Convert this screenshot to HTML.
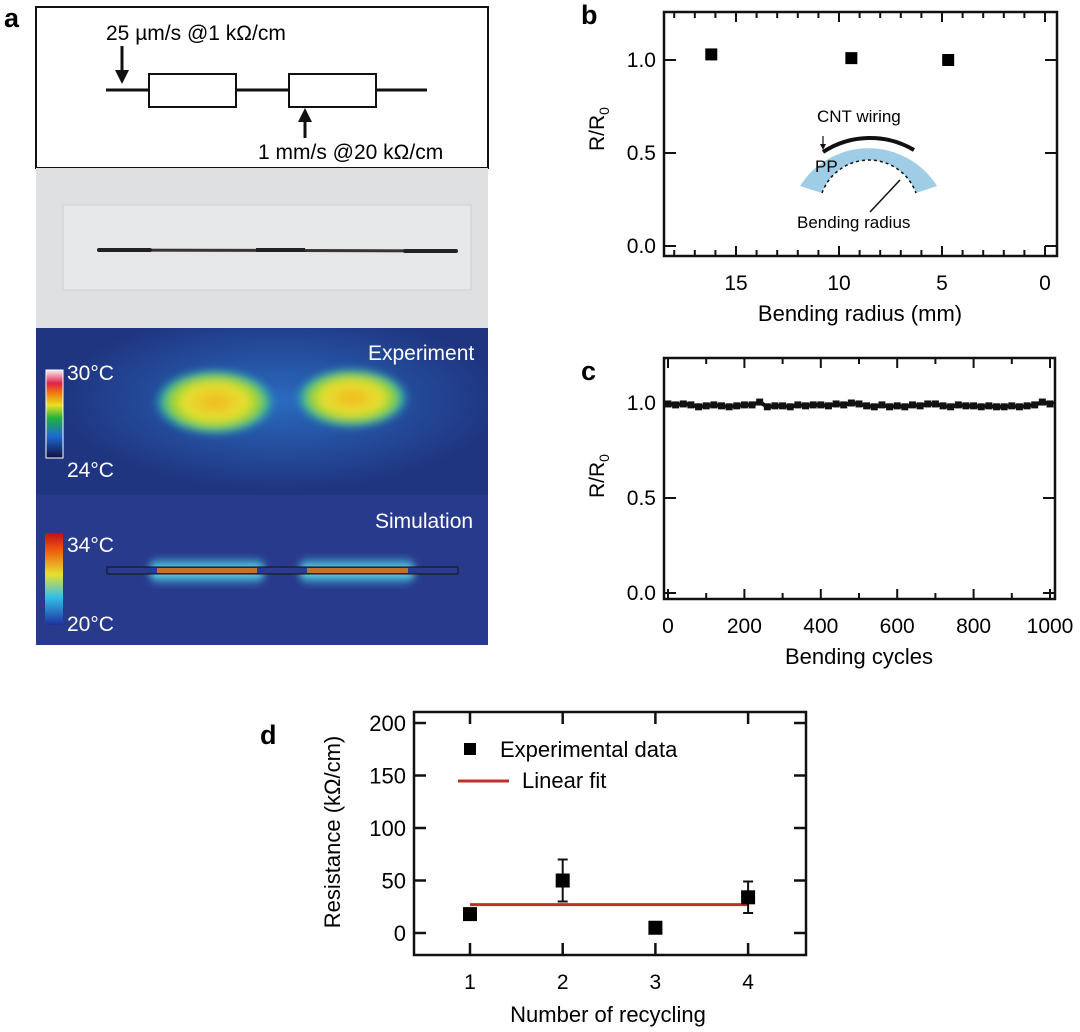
<!DOCTYPE html>
<html><head><meta charset="utf-8"><style>
body{margin:0;width:1080px;height:1032px;background:#fff;overflow:hidden;font-family:"Liberation Sans",sans-serif;}
svg{position:absolute;left:0;top:0}
</style></head><body>
<svg width="1080" height="1032" viewBox="0 0 1080 1032" font-family="Liberation Sans, sans-serif">
<defs>
<radialGradient id="blob" cx="50%" cy="50%" r="50%">
<stop offset="0" stop-color="#f0b820"/><stop offset="0.5" stop-color="#e6e030"/><stop offset="0.72" stop-color="#8ad03a"/><stop offset="0.86" stop-color="#2cb0a0"/><stop offset="1" stop-color="#2a64c8" stop-opacity="0"/>
</radialGradient>
<radialGradient id="halo" cx="50%" cy="50%" r="50%">
<stop offset="0" stop-color="#2f7fd8" stop-opacity="0.9"/><stop offset="1" stop-color="#2f7fd8" stop-opacity="0"/>
</radialGradient>
<linearGradient id="cb1" x1="0" y1="1" x2="0" y2="0">
<stop offset="0" stop-color="#101040"/><stop offset="0.25" stop-color="#1e6ad0"/><stop offset="0.45" stop-color="#20b040"/><stop offset="0.6" stop-color="#e8e020"/><stop offset="0.75" stop-color="#f07010"/><stop offset="0.85" stop-color="#e0204a"/><stop offset="1" stop-color="#f8f0f0"/>
</linearGradient>
<linearGradient id="cb2" x1="0" y1="1" x2="0" y2="0">
<stop offset="0" stop-color="#2030a0"/><stop offset="0.3" stop-color="#30c0e8"/><stop offset="0.55" stop-color="#e8e030"/><stop offset="0.8" stop-color="#f06010"/><stop offset="1" stop-color="#c01010"/>
</linearGradient>
<linearGradient id="glow" x1="0" y1="0" x2="0" y2="1">
<stop offset="0" stop-color="#30c0e8" stop-opacity="0"/><stop offset="0.4" stop-color="#60e0e8"/><stop offset="0.6" stop-color="#60e0e8"/><stop offset="1" stop-color="#30c0e8" stop-opacity="0"/>
</linearGradient>
<filter id="blur"><feGaussianBlur stdDeviation="4"/></filter>
<clipPath id="expclip"><rect x="36" y="328" width="452" height="167"/></clipPath>
</defs>

<!-- Panel a -->
<text x="4" y="27" font-size="27" font-weight="bold">a</text>
<g>
<rect x="36" y="7" width="452" height="161" fill="#fff" stroke="#111" stroke-width="2"/>
<line x1="106" y1="90" x2="427" y2="90" stroke="#111" stroke-width="3"/>
<rect x="149" y="74" width="87" height="33" fill="#fff" stroke="#111" stroke-width="2"/>
<rect x="289" y="74" width="87" height="33" fill="#fff" stroke="#111" stroke-width="2"/>
<line x1="122" y1="46" x2="122" y2="72" stroke="#111" stroke-width="3"/>
<polygon points="115,70 129,70 122,84" fill="#111"/>
<line x1="305" y1="112" x2="305" y2="138" stroke="#111" stroke-width="3"/>
<polygon points="298,122 312,122 305,108" fill="#111"/>
<text x="106" y="40" font-size="21">25 µm/s @1 kΩ/cm</text>
<text x="258" y="159" font-size="21">1 mm/s @20 kΩ/cm</text>
</g>
<g>
<rect x="36" y="168" width="452" height="160" fill="#dfe0e2"/>
<rect x="63" y="205" width="408" height="85" fill="#e6e7e9" stroke="#cfd0d2" stroke-width="1"/>
<line x1="99" y1="250" x2="456" y2="251" stroke="#3a3434" stroke-width="3"/>
<line x1="99" y1="250" x2="150" y2="250" stroke="#222" stroke-width="4" stroke-linecap="round"/>
<line x1="256" y1="250" x2="305" y2="250" stroke="#222" stroke-width="4"/>
<line x1="405" y1="251" x2="456" y2="251" stroke="#222" stroke-width="4" stroke-linecap="round"/>
</g>
<g clip-path="url(#expclip)">
<rect x="36" y="328" width="452" height="167" fill="#1f3580"/>
<ellipse cx="280" cy="400" rx="220" ry="90" fill="url(#halo)" opacity="0.8"/>
<ellipse cx="215" cy="402" rx="62" ry="34" fill="url(#blob)" filter="url(#blur)"/>
<ellipse cx="352" cy="398" rx="58" ry="31" fill="url(#blob)" filter="url(#blur)"/>
<rect x="46" y="370" width="17" height="88" fill="url(#cb1)" stroke="#fff" stroke-width="1"/>
<text x="67" y="380" font-size="21" fill="#fff">30°C</text>
<text x="67" y="477" font-size="21" fill="#fff">24°C</text>
<text x="368" y="360" font-size="21" fill="#fff">Experiment</text>
</g>
<g>
<rect x="36" y="495" width="452" height="150" fill="#283a8c"/>
<rect x="150" y="556" width="114" height="30" rx="12" fill="url(#glow)" filter="url(#blur)"/>
<rect x="300" y="556" width="114" height="30" rx="12" fill="url(#glow)" filter="url(#blur)"/>
<rect x="107" y="567" width="351" height="7" fill="#2a3c90" stroke="#111" stroke-width="1"/>
<rect x="157" y="568" width="100" height="5" fill="#c07030"/>
<rect x="307" y="568" width="101" height="5" fill="#c07030"/>
<rect x="45" y="533" width="18" height="92" fill="url(#cb2)"/>
<text x="67" y="552" font-size="21" fill="#fff">34°C</text>
<text x="67" y="631" font-size="21" fill="#fff">20°C</text>
<text x="375" y="528" font-size="21" fill="#fff">Simulation</text>
</g>

<!-- Panel b -->
<text x="581" y="24" font-size="27" font-weight="bold">b</text>
<g id="pb"></g>
<!-- Panel c -->
<text x="581" y="380" font-size="27" font-weight="bold">c</text>
<g id="pc"></g>
<!-- Panel d -->
<text x="260" y="744" font-size="27" font-weight="bold">d</text>
<g id="pd"></g>
</svg>
<script>
// Panel b data
const bRadius = [16.2, 9.4, 4.7];
const bRatio = [1.03, 1.01, 1.0];
const bXTicks = [15, 10, 5, 0];
const bYTicks = [0.0, 0.5, 1.0];
// Panel c data
const cCycles = [0,20,40,60,80,100,120,140,160,180,200,220,240,260,280,300,320,340,360,380,400,420,440,460,480,500,520,540,560,580,600,620,640,660,680,700,720,740,760,780,800,820,840,860,880,900,920,940,960,980,1000];
const cRatio = [0.995,0.99,0.995,0.99,0.98,0.985,0.99,0.985,0.98,0.985,0.99,0.99,1.005,0.98,0.985,0.985,0.98,0.99,0.985,0.99,0.99,0.985,0.995,0.99,1.0,0.995,0.985,0.98,0.99,0.98,0.985,0.98,0.99,0.985,0.995,0.995,0.985,0.98,0.99,0.985,0.985,0.98,0.985,0.98,0.98,0.985,0.98,0.985,0.99,1.005,0.995];
const cXTicks = [0,200,400,600,800,1000];
const cYTicks = [0.0, 0.5, 1.0];
// Panel d data
const dCycle = [1,2,3,4];
const dRes = [18,50,5,34];
const dErr = [0,20,0,15];
const dFit = [27,27];
const dXTicks = [1,2,3,4];
const dYTicks = [0,50,100,150,200];

const NS='http://www.w3.org/2000/svg';
function mk(parent,tag,attrs,txt){const e=document.createElementNS(NS,tag);for(const k in attrs)e.setAttribute(k,attrs[k]);if(txt!==undefined)e.textContent=txt;parent.appendChild(e);return e;}

// ---- Panel b
(function(){
const g=document.getElementById('pb');
const L=664,R=1057,T=12,B=256;
const xs=v=>1045-(v*20.6), ys=v=>246-v*186;
mk(g,'rect',{x:L,y:T,width:R-L,height:B-T,fill:'none',stroke:'#111','stroke-width':2.5});
for(let v=0;v<=18;v++){const x=xs(v);const len=(v%5===0)?10:6;mk(g,'line',{x1:x,y1:B,x2:x,y2:B-len,stroke:'#111','stroke-width':2});mk(g,'line',{x1:x,y1:T,x2:x,y2:T+len,stroke:'#111','stroke-width':2});}
bXTicks.forEach(v=>{const t=mk(g,'text',{x:xs(v),y:290,'font-size':21,'text-anchor':'middle'},String(v));

});
bYTicks.forEach(v=>{const y=ys(v);mk(g,'line',{x1:L,y1:y,x2:L+12,y2:y,stroke:'#111','stroke-width':2});mk(g,'line',{x1:R,y1:y,x2:R-12,y2:y,stroke:'#111','stroke-width':2});
const t=mk(g,'text',{x:L-8,y:y+7,'font-size':21,'text-anchor':'end'},v.toFixed(1));

});
const xt=mk(g,'text',{x:860,y:321,'font-size':22,'text-anchor':'middle'},'Bending radius (mm)');


const yt=mk(g,'text',{x:0,y:0,'font-size':21,'text-anchor':'middle',transform:'translate(604,129) rotate(-90)'});


yt.innerHTML='R/R<tspan font-size="14" dy="5">0</tspan>';
bRadius.forEach((r,i)=>{const m=mk(g,'rect',{x:xs(r)-6,y:ys(bRatio[i])-6,width:12,height:12,fill:'#000'});

});
// inset
const ins=mk(g,'g',{});


mk(ins,'path',{d:'M800,186 A81,81 0 0 1 937,186 L916,193 A50,50 0 0 0 822,193 Z',fill:'#9fcde6'});
mk(ins,'path',{d:'M822,193 A50,50 0 0 1 916,193',fill:'none',stroke:'#111','stroke-width':1.5,'stroke-dasharray':'3,3'});
mk(ins,'path',{d:'M823,152 A86,86 0 0 1 914,150',fill:'none',stroke:'#111','stroke-width':4});
mk(ins,'line',{x1:823,y1:136,x2:823,y2:146,stroke:'#111','stroke-width':1.2});
mk(ins,'polygon',{points:'820,144 826,144 823,150',fill:'#111'});
mk(ins,'line',{x1:870,y1:212,x2:900,y2:180,stroke:'#111','stroke-width':1.5});
mk(ins,'text',{x:817,y:122,'font-size':17},'CNT wiring');
mk(ins,'text',{x:815,y:172,'font-size':17},'PP');
mk(ins,'text',{x:797,y:228,'font-size':17},'Bending radius');
})();

// ---- Panel c
(function(){
const g=document.getElementById('pc');
const L=664,R=1055,T=358,B=599;
const xs=v=>668+v*0.382, ys=v=>593-v*190;
mk(g,'rect',{x:L,y:T,width:R-L,height:B-T,fill:'none',stroke:'#111','stroke-width':2.5});
for(let v=0;v<=1000;v+=100){const x=xs(v);const len=(v%200===0)?10:6;mk(g,'line',{x1:x,y1:B,x2:x,y2:B-len,stroke:'#111','stroke-width':2});mk(g,'line',{x1:x,y1:T,x2:x,y2:T+len,stroke:'#111','stroke-width':2});}
cXTicks.forEach(v=>{const t=mk(g,'text',{x:xs(v),y:633,'font-size':21,'text-anchor':'middle'},String(v));

});
cYTicks.forEach(v=>{const y=ys(v);mk(g,'line',{x1:L,y1:y,x2:L+12,y2:y,stroke:'#111','stroke-width':2});mk(g,'line',{x1:R,y1:y,x2:R-12,y2:y,stroke:'#111','stroke-width':2});
const t=mk(g,'text',{x:L-8,y:y+7,'font-size':21,'text-anchor':'end'},v.toFixed(1));

});
const xt=mk(g,'text',{x:859,y:664,'font-size':22,'text-anchor':'middle'},'Bending cycles');


const yt=mk(g,'text',{x:0,y:0,'font-size':21,'text-anchor':'middle',transform:'translate(604,476) rotate(-90)'});


yt.innerHTML='R/R<tspan font-size="14" dy="5">0</tspan>';
const pts=cCycles.map((c,i)=>xs(c)+','+ys(cRatio[i])).join(' ');
const ln=mk(g,'polyline',{points:pts,fill:'none',stroke:'#111','stroke-width':4});


cCycles.forEach((c,i)=>{const m=mk(g,'rect',{x:xs(c)-3.5,y:ys(cRatio[i])-3.5,width:7,height:7,fill:'#111'});

});
})();

// ---- Panel d
(function(){
const g=document.getElementById('pd');
const L=414,R=806,T=712,B=955;
const xs=v=>470+(v-1)*92.7, ys=v=>933-v*1.05;
mk(g,'rect',{x:L,y:T,width:R-L,height:B-T,fill:'none',stroke:'#111','stroke-width':2.5});
dXTicks.forEach(v=>{const x=xs(v);mk(g,'line',{x1:x,y1:B,x2:x,y2:B-12,stroke:'#111','stroke-width':2.5});mk(g,'line',{x1:x,y1:T,x2:x,y2:T+12,stroke:'#111','stroke-width':2.5});
const t=mk(g,'text',{x:x,y:989,'font-size':21,'text-anchor':'middle'},String(v));

});
dYTicks.forEach(v=>{const y=ys(v);mk(g,'line',{x1:L,y1:y,x2:L+12,y2:y,stroke:'#111','stroke-width':2.5});mk(g,'line',{x1:R,y1:y,x2:R-12,y2:y,stroke:'#111','stroke-width':2.5});
const t=mk(g,'text',{x:L-8,y:y+8,'font-size':22,'text-anchor':'end'},String(v));

});
const xt=mk(g,'text',{x:608,y:1022,'font-size':22,'text-anchor':'middle'},'Number of recycling');


const yt=mk(g,'text',{x:0,y:0,'font-size':22,'text-anchor':'middle',transform:'translate(340,832) rotate(-90)'},'Resistance (kΩ/cm)');


const fit=mk(g,'line',{x1:xs(dCycle[0]),y1:ys(dFit[0]),x2:xs(dCycle[dCycle.length-1]),y2:ys(dFit[1]),stroke:'#c0302a','stroke-width':3});


dCycle.forEach((c,i)=>{const x=xs(c),y=ys(dRes[i]);
if(dErr[i]>0){const y1=ys(dRes[i]+dErr[i]),y2=ys(dRes[i]-dErr[i]);
const eb=mk(g,'path',{d:`M${x},${y1}V${y2}M${x-5},${y1}H${x+5}M${x-5},${y2}H${x+5}`,stroke:'#111','stroke-width':2,fill:'none'});

}
const m=mk(g,'rect',{x:x-7,y:y-7,width:14,height:14,fill:'#000'});

});
const lg=mk(g,'g',{});


mk(lg,'rect',{x:464,y:743,width:12,height:12,fill:'#000'});
mk(lg,'text',{x:500,y:757,'font-size':22},'Experimental data');
mk(lg,'line',{x1:458,y1:781,x2:509,y2:781,stroke:'#c0302a','stroke-width':3});
mk(lg,'text',{x:522,y:788,'font-size':22},'Linear fit');
})();
</script>
</body></html>
